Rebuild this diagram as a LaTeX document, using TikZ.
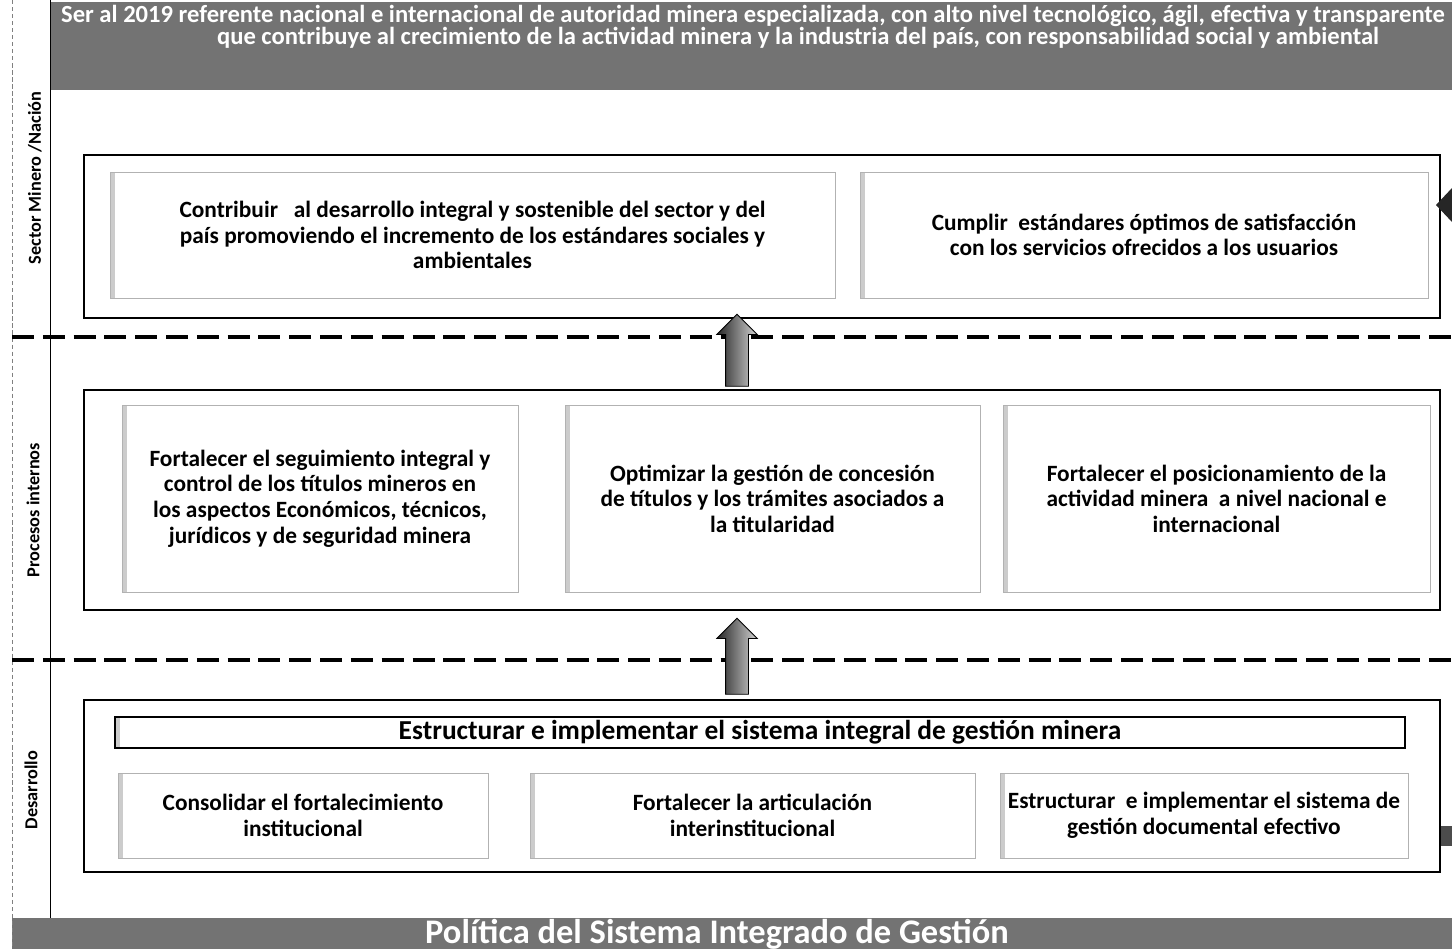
\documentclass[tikz,border=0pt]{standalone}
\usepackage{fontspec}
\setmainfont{Carlito}
\usetikzlibrary{positioning,shapes.arrows,calc}

\begin{document}
\begin{tikzpicture}[
  x=0.025cm, y=-0.025cm,
  every node/.style={font=\bfseries},
  grp/.style={draw=black, line width=1.2pt, inner sep=0pt},
  obj/.style={draw=gray!60, line width=0.4pt, inner sep=1pt, align=center,
    font=\bfseries\fontsize{16.6}{18.2}\selectfont,
    path picture={\fill[gray!40] (path picture bounding box.south west)
      rectangle ([xshift=0.12cm]path picture bounding box.north west);}},
  lane/.style={rotate=90, font=\bfseries\fontsize{13}{15}\selectfont},
  divider/.style={line width=2.6pt, dash pattern=on 0.55cm off 0.22cm},
  bannerfill/.style={fill=black!55},
  uparrow/.style={single arrow, shape border rotate=90, draw=black, line width=0.6pt,
    left color=black!85, right color=gray!35, inner sep=0pt, text width=0.55cm,
    single arrow head extend=0.22cm}
]
\useasboundingbox (0,0) rectangle (1452,949);

% bandas superior e inferior
\fill[bannerfill] (50,2) rectangle (1452,90);
\node[text=white, align=center, font=\bfseries\fontsize{17.5}{16}\selectfont] (vision) at (753,27)
  {Ser al 2019 referente nacional e internacional de autoridad minera especializada, con alto nivel tecnológico, ágil, efectiva y transparente\\
   \hspace*{2.25cm}que contribuye al crecimiento de la actividad minera y la industria del país, con responsabilidad social y ambiental};
\fill[bannerfill] (12,918) rectangle (1452,949);
\node[text=white, font=\bfseries\fontsize{24.5}{26}\selectfont] (politica) at (717,934)
  {Política del Sistema Integrado de Gestión};

% carriles
\draw[black, line width=0.6pt] (50,0) -- (50,918);
\draw[gray, densely dashed, line width=0.3pt] (12,0) -- (12,949);
\draw[divider] (12,337) -- (1452,337);
\draw[divider] (12,660) -- (1452,660);
\node[lane] (lsector) at (35,178) {Sector Minero /Nación};
\node[lane] (lprocesos) at (33,510) {Procesos internos};
\node[lane] (ldesarrollo) at (31,790) {Desarrollo};

% Sector Minero / Nación
\node[grp, minimum width=33.9cm, minimum height=4.075cm] (smgrp) at (762,236.5) {};
\node[obj, minimum width=18.125cm, minimum height=3.15cm] (sm1) at (472.5,235)
  {Contribuir \ \ al desarrollo integral y sostenible del sector y del\\
   país promoviendo el incremento de los estándares sociales y\\
   ambientales};
\node[obj, minimum width=14.2cm, minimum height=3.15cm] (sm2) at (1144,235)
  {Cumplir \ estándares óptimos de satisfacción\\
   con los servicios ofrecidos a los usuarios};

% Procesos internos
\node[grp, minimum width=33.9cm, minimum height=5.5cm] (pigrp) at (762,500) {};
\node[obj, minimum width=9.9cm, minimum height=4.675cm] (pi1) at (320,498.5)
  {Fortalecer el seguimiento integral y\\
   control de los títulos mineros en\\
   los aspectos Económicos, técnicos,\\
   jurídicos y de seguridad minera};
\node[obj, minimum width=10.375cm, minimum height=4.675cm] (pi2) at (772.5,498.5)
  {Optimizar la gestión de concesión\\
   de títulos y los trámites asociados a\\
   la titularidad};
\node[obj, minimum width=10.675cm, minimum height=4.675cm] (pi3) at (1216.5,498.5)
  {Fortalecer el posicionamiento de la\\
   actividad minera \ a nivel nacional e\\
   internacional};

% Desarrollo
\node[grp, minimum width=33.9cm, minimum height=4.3cm] (dgrp) at (762,786) {};
\node[obj, draw=black, line width=1pt, inner sep=0pt, minimum width=32.25cm, minimum height=0.775cm,
  font=\bfseries\fontsize{19.5}{20}\selectfont] (dhead) at (760,732.5)
  {Estructurar e implementar el sistema integral de gestión minera};
\node[obj, minimum width=9.25cm, minimum height=2.125cm] (d1) at (303,815.5)
  {Consolidar el fortalecimiento\\ institucional};
\node[obj, minimum width=11.125cm, minimum height=2.125cm] (d2) at (752.5,815.5)
  {Fortalecer la articulación\\ interinstitucional};
\node[obj, minimum width=10.2cm, minimum height=2.125cm] (d3) at (1204,815.5)
  {Estructurar \ e implementar el sistema de\\ gestión documental efectivo};

% flechas entre niveles
\node[uparrow, minimum height=1.8cm] (arr1) at (737,356) {};
\node[uparrow, minimum height=1.9cm] (arr2) at (737,662) {};

% marcas en el borde derecho
\fill[black!85] (1436,205) -- (1452,188) -- (1452,222) -- cycle;
\fill[black!70] (1441,826) rectangle (1452,846);
\end{tikzpicture}
\end{document}
